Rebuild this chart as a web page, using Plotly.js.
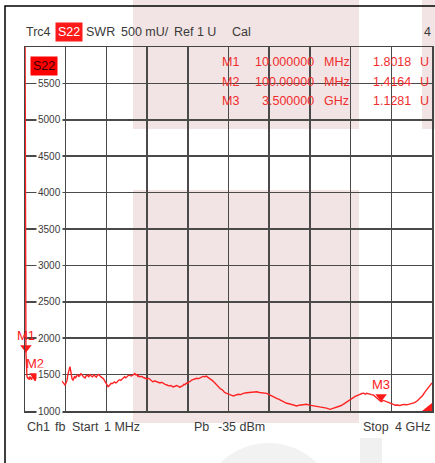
<!DOCTYPE html>
<html><head><meta charset="utf-8">
<script src="https://cdn.plot.ly/plotly-3.0.1.min.js"></script>
<style>html,body{margin:0;padding:0;background:#fff;} #chart{width:435px;height:463px;}</style>
</head><body><div id="chart"></div>
<script>
// ---- data ----
const freqMHz = [1,10,20,28,35,42,50,58,65,72,80,90,100,110,120,134,148,160,170,184,197,208,220,234,247,258,270,283,296,308,320,333,345,358,370,382,394,404,414,422,430,437,443,449,455,463,473,482,490,496,502,511,520,529,538,549,560,575,591,603,615,628,640,652,665,677,689,702,715,727,738,749,760,769,777,787,797,807,817,827,836,846,856,868,880,893,905,918,930,942,954,967,980,992,1003,1017,1030,1046,1062,1071,1080,1090,1101,1108,1115,1123,1131,1148,1165,1182,1200,1215,1230,1245,1259,1275,1290,1308,1327,1343,1360,1378,1396,1415,1435,1455,1475,1488,1500,1512,1524,1537,1550,1562,1573,1587,1600,1611,1622,1638,1655,1671,1688,1709,1730,1750,1770,1782,1795,1807,1819,1840,1860,1880,1900,1920,1940,1962,1983,2000,2015,2032,2048,2070,2095,2120,2146,2178,2210,2245,2278,2305,2330,2352,2376,2400,2425,2450,2474,2497,2520,2546,2572,2596,2620,2646,2671,2695,2720,2745,2769,2795,2820,2843,2867,2898,2930,2964,2998,3023,3050,3073,3096,3120,3145,3170,3194,3220,3245,3270,3293,3312,3330,3345,3358,3375,3390,3407,3424,3442,3460,3480,3500,3522,3545,3566,3587,3603,3620,3637,3653,3686,3720,3752,3784,3807,3830,3856,3882,3906,3930,3955,3980,4000];
const swrMU = [6500,1801.8,1480,1445,1460,1430,1475,1445,1430,1465,1470,1440,1416.4,1455,1490,1470,1500,1480,1455,1470,1440,1465,1480,1450,1465,1440,1420,1445,1435,1460,1450,1470,1455,1430,1400,1375,1357,1385,1420,1500,1560,1600,1609,1560,1500,1445,1426,1460,1480,1450,1460,1490,1505,1475,1480,1510,1500,1470,1455,1485,1490,1470,1505,1480,1470,1495,1485,1465,1495,1500,1480,1470,1460,1445,1430,1400,1380,1350,1334,1345,1360,1380,1375,1395,1400,1385,1395,1420,1430,1420,1440,1460,1470,1455,1475,1490,1490,1480,1495,1510,1515,1495,1500,1480,1490,1470,1471,1475,1460,1445,1440,1450,1425,1415,1400,1415,1405,1390,1385,1395,1375,1365,1357,1345,1350,1330,1340,1350,1345,1330,1325,1340,1345,1365,1360,1385,1380,1400,1403,1425,1430,1445,1449,1445,1460,1475,1471,1480,1465,1455,1440,1420,1395,1360,1334,1305,1290,1255,1243,1230,1225,1215,1206,1220,1230,1225,1243,1250,1255,1270,1265,1255,1250,1255,1243,1225,1205,1190,1174,1160,1140,1125,1106,1100,1090,1080,1069,1080,1085,1095,1092,1080,1075,1070,1059,1055,1045,1040,1023,1035,1040,1050,1069,1085,1110,1130,1161,1180,1200,1215,1234,1240,1245,1230,1243,1240,1235,1225,1220,1200,1180,1155,1128.1,1145,1130,1115,1106,1095,1090,1080,1082,1075,1090,1085,1096,1100,1115,1140,1174,1210,1260,1305,1357,1385];

const markerNames = ['M1','M2','M3'];
const markerFreqMHz = [10,100,3500];
const markerSwrMU = [1801.8,1416.4,1128.1];
const markerFreqText = ['10.000000','100.00000','3.500000'];
const markerUnitText = ['MHz','MHz','GHz'];
const markerValueText = ['1.8018','1.4164','1.1281'];

const yTickVals = [1000,1500,2000,2500,3000,3500,4000,4500,5000,5500];
const yTickText = ['1000','1500','2000','2500','3000','3500','4000','4500','5000','5500'];

const headerWords = ['Trc4','S22','SWR','500 mU/','Ref 1 U','Cal','4'];
const footerWords = ['Ch1','fb','Start','1 MHz','Pb','-35 dBm','Stop','4 GHz'];

// ---- layout helpers (pixel -> paper) ----
const W = 435, H = 463, ML = 25, MR = 3, MT = 47, MB = 52;
const PW = W - ML - MR, PH = H - MT - MB;
const px = x => (x - ML) / PW;
const py = y => (H - MB - y) / PH;
const FONT = '"Liberation Sans",Arial,sans-serif';
const TXT = '#3a3a3a';
const RED = '#ff1a1a';
const TABLE_RED = 'rgb(240,45,45)';

const ann = [];
// header
const headerPos = [[25,'left'],[68.5,'center'],[85,'left'],[120,'left'],[173,'left'],[231,'left'],[432,'right']];
headerWords.forEach((w, i) => {
  const isBox = w === 'S22';
  ann.push({xref:'paper', yref:'paper', x: px(headerPos[i][0]), y: py(32), text: w,
    xanchor: headerPos[i][1], yanchor:'middle', showarrow:false,
    bgcolor: isBox ? RED : 'rgba(0,0,0,0)', borderpad: isBox ? 2 : 0,
    font:{family:FONT, size:12.5, color: isBox ? '#ffffff' : TXT}});
});
// footer
const footerPos = [[25,'left'],[53,'left'],[70,'left'],[102,'left'],[192,'left'],[216,'left'],[391,'right'],[432,'right']];
footerWords.forEach((w, i) => {
  ann.push({xref:'paper', yref:'paper', x: px(footerPos[i][0]), y: py(427), text: w,
    xanchor:footerPos[i][1], yanchor:'middle', showarrow:false,
    font:{family:FONT, size:12.5, color:TXT}});
});
// trace label box inside plot
ann.push({xref:'paper', yref:'paper', x: px(44), y: py(65.5), text:'S22', showarrow:false,
  xanchor:'center', yanchor:'middle', bgcolor:'#ff0000', borderpad:2,
  font:{family:FONT, size:12.5, color:'#3a0000'}});
// marker table
const rowY = [62.3, 81.7, 101];
markerNames.forEach((m, i) => {
  const y = py(rowY[i]);
  const f = {family:FONT, size:12.5, color:TABLE_RED};
  ann.push({xref:'paper', yref:'paper', x:px(220), y, text:m, xanchor:'left', yanchor:'middle', showarrow:false, font:f});
  ann.push({xref:'paper', yref:'paper', x:px(316), y, text:markerFreqText[i], xanchor:'right', yanchor:'middle', showarrow:false, font:f});
  ann.push({xref:'paper', yref:'paper', x:px(322), y, text:markerUnitText[i], xanchor:'left', yanchor:'middle', showarrow:false, font:f});
  ann.push({xref:'paper', yref:'paper', x:px(413), y, text:markerValueText[i], xanchor:'right', yanchor:'middle', showarrow:false, font:f});
  ann.push({xref:'paper', yref:'paper', x:px(418), y, text:'U', xanchor:'left', yanchor:'middle', showarrow:false, font:f});
  // marker label above the triangle on the trace
  ann.push({xref:'x', yref:'y', x:markerFreqMHz[i], y:markerSwrMU[i], text:m, xanchor:'center', yanchor:'bottom',
    yshift:8, showarrow:false, font:{family:FONT, size:13, color:RED}});
});
// y tick labels inside the plot
yTickVals.forEach((v, i) => {
  ann.push({xref:'paper', yref:'y', x:px(49.5), y:v, text:yTickText[i], xanchor:'center', yanchor:'middle',
    showarrow:false, bgcolor:'#ffffff', borderpad:1, font:{family:FONT, size:10, color:TXT}});
});

const PINK = '#f2e4e4';
const shapes = [
  {type:'rect', xref:'paper', yref:'paper', x0:px(133), x1:px(359), y0:py(129), y1:py(0), fillcolor:PINK, line:{width:0}, layer:'below'},
  {type:'rect', xref:'paper', yref:'paper', x0:px(133), x1:px(359), y0:py(423), y1:py(190), fillcolor:PINK, line:{width:0}, layer:'below'},
  {type:'rect', xref:'paper', yref:'paper', x0:px(422), x1:px(440), y0:py(129), y1:py(0), fillcolor:PINK, line:{width:0}, layer:'below'},
  {type:'circle', xref:'paper', yref:'paper', x0:px(200), x1:px(337), y0:py(580), y1:py(443), fillcolor:'#f2f2f2', line:{width:0}, layer:'below'},
  {type:'rect', xref:'paper', yref:'paper', x0:px(360), x1:px(382), y0:py(470), y1:py(438), fillcolor:'#f0f0f0', line:{width:0}, layer:'below'},
  {type:'path', xref:'paper', yref:'paper',
   path:`M${px(5)},${py(470)} L${px(5)},${py(6)} L${px(440)},${py(6)}`, line:{color:'#000', width:1.5}},
  {type:'path', xref:'paper', yref:'paper',
   path:`M${px(432)},${py(403)} L${px(432)},${py(411)} L${px(422)},${py(411)} Z`, fillcolor:RED, line:{width:0}}
];

const traces = [
  {x:freqMHz, y:swrMU, type:'scatter', mode:'lines', line:{color:'#ff2222', width:1.4}, hoverinfo:'skip'},
  {x:markerFreqMHz, y:markerSwrMU, type:'scatter', mode:'markers', cliponaxis:false,
   marker:{symbol:'triangle-up', angle:180, size:10, color:RED, standoff:5, line:{width:0}}, hoverinfo:'skip'}
];

const layout = {
  width:W, height:H, margin:{l:ML, r:MR, t:MT, b:MB, pad:0},
  paper_bgcolor:'#ffffff', plot_bgcolor:'rgba(0,0,0,0)', showlegend:false,
  xaxis:{range:[1,4000], tick0:1, dtick:399.9, showticklabels:false, ticks:'', showgrid:true,
    gridcolor:'#4a4a4a', gridwidth:1.5, zeroline:false, showline:true, mirror:true, linecolor:'#444', linewidth:1.5, fixedrange:true},
  yaxis:{range:[1000,6000], tick0:1000, dtick:500, showticklabels:false, ticks:'', showgrid:true,
    gridcolor:'#4a4a4a', gridwidth:1.5, zeroline:false, showline:true, mirror:true, linecolor:'#444', linewidth:1.5, fixedrange:true},
  annotations: ann,
  shapes: shapes
};
Plotly.newPlot('chart', traces, layout, {staticPlot:true, displayModeBar:false});
</script></body></html>
